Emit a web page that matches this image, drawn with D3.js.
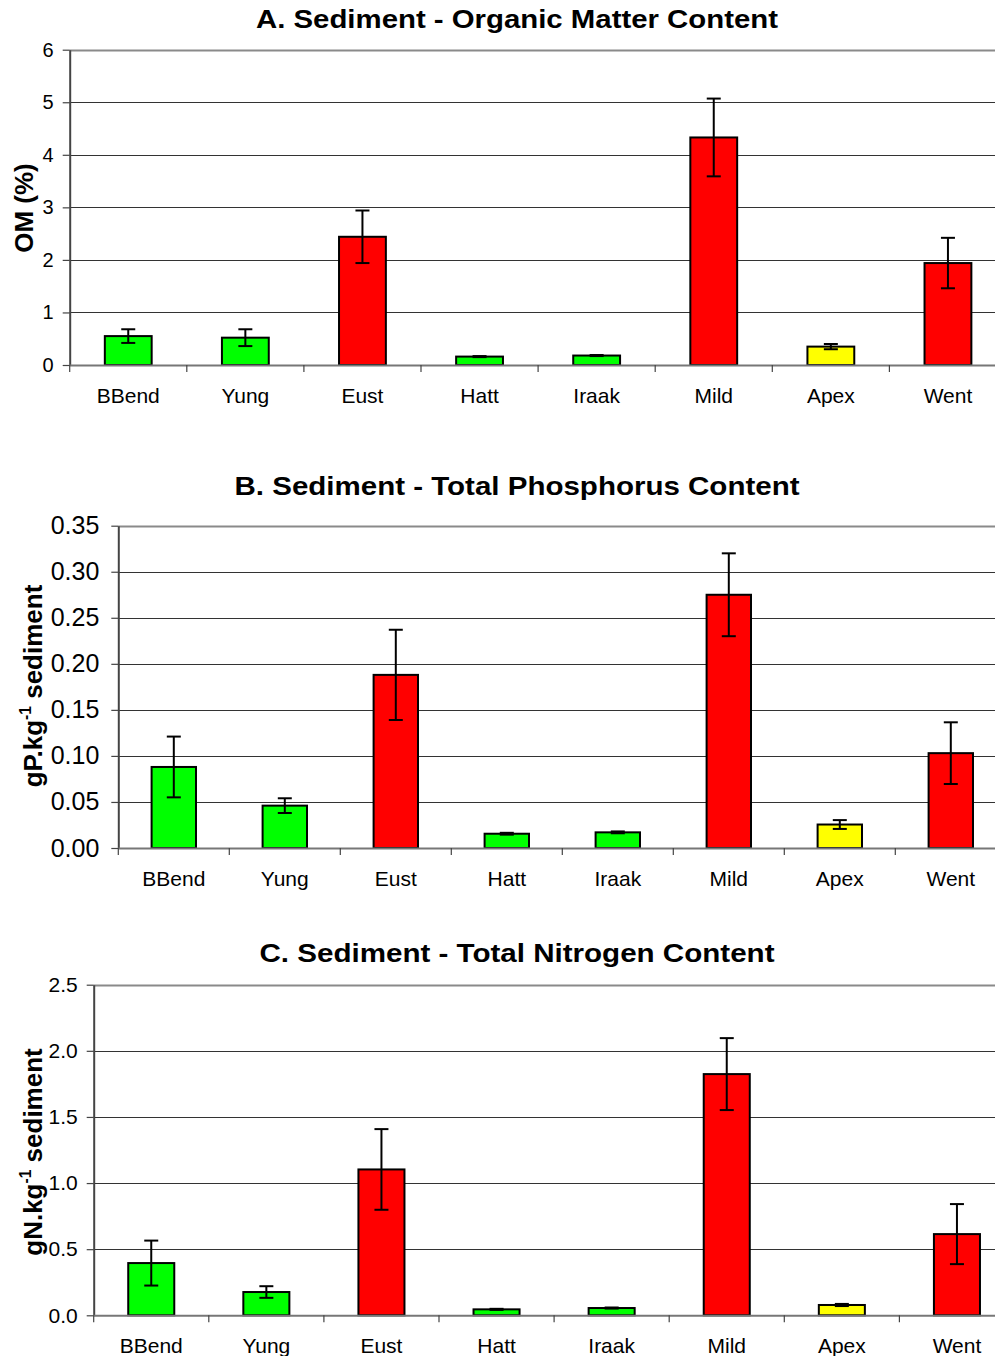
<!DOCTYPE html>
<html>
<head>
<meta charset="utf-8">
<script src="https://cdn.jsdelivr.net/npm/d3@7"></script>
<style>
  html, body { margin: 0; padding: 0; background: #fff; }
  svg { display: block; font-family: "Liberation Sans", Arial, sans-serif; }
</style>
</head>
<body>
<svg id="chart" width="995" height="1356"></svg>
<script>
// ---------- Data ----------
const sites = ["BBend", "Yung", "Eust", "Hatt", "Iraak", "Mild", "Apex", "Went"];
const siteColors = ["#00FF00", "#00FF00", "#FF0000", "#00FF00", "#00FF00", "#FF0000", "#FFFF00", "#FF0000"];

const omValues = [0.55, 0.52, 2.44, 0.16, 0.18, 4.33, 0.35, 1.94];
const omErrors = [0.13, 0.16, 0.50, 0.01, 0.01, 0.74, 0.05, 0.48];
const omTicks = [0, 1, 2, 3, 4, 5, 6];

const tpValues = [0.088, 0.046, 0.188, 0.0155, 0.017, 0.275, 0.0255, 0.103];
const tpErrors = [0.033, 0.008, 0.049, 0.001, 0.001, 0.045, 0.0048, 0.0335];
const tpTicks = [0, 0.05, 0.10, 0.15, 0.20, 0.25, 0.30, 0.35];

const tnValues = [0.395, 0.176, 1.103, 0.045, 0.055, 1.824, 0.078, 0.614];
const tnErrors = [0.17, 0.044, 0.305, 0.004, 0.004, 0.272, 0.008, 0.227];
const tnTicks = [0, 0.5, 1.0, 1.5, 2.0, 2.5];

// ---------- Panels ----------
const svg = d3.select("#chart");

function drawPanel(cfg) {
  const g = svg.append("g");
  const x = d3.scaleBand().domain(sites).range([cfg.left, cfg.right])
    .paddingInner(0.6).paddingOuter(0.3);
  const xEdges = d3.scaleBand().domain(sites).range([cfg.left, cfg.right]).padding(0);
  const y = d3.scaleLinear().domain([0, cfg.max]).range([cfg.bottom, cfg.top]);

  // title
  g.append("text").attr("x", 517).attr("y", cfg.titleY)
    .attr("text-anchor", "middle").attr("font-weight", "bold")
    .attr("font-size", 25).attr("fill", "#000")
    .attr("textLength", cfg.titleLen).attr("lengthAdjust", "spacingAndGlyphs")
    .text(cfg.title);

  // gridlines
  g.selectAll("line.grid").data(cfg.ticks.filter(t => t > 0)).join("line")
    .attr("x1", cfg.left).attr("x2", cfg.right + 20)
    .attr("y1", d => Math.round(y(d)) + 0.5).attr("y2", d => Math.round(y(d)) + 0.5)
    .attr("stroke", d => d === cfg.max ? "#8a8a8a" : "#333")
    .attr("stroke-width", d => d === cfg.max ? 2 : 1);

  // y axis
  const yAxis = d3.axisLeft(y).tickValues(cfg.ticks).tickFormat(cfg.fmt)
    .tickSize(7).tickSizeOuter(0).tickPadding(cfg.tickPad);
  const ya = g.append("g").attr("transform", `translate(${cfg.left},0)`).call(yAxis);
  ya.select(".domain").attr("stroke", "#444").attr("stroke-width", 2);
  ya.selectAll(".tick line").attr("stroke", "#444").attr("stroke-width", 1.2);
  ya.selectAll(".tick text").attr("font-size", cfg.tickFont).attr("fill", "#000")
    .attr("font-family", "'Liberation Sans', Arial, sans-serif");

  // bars
  g.selectAll("rect.bar").data(sites).join("rect")
    .attr("x", d => x(d)).attr("width", x.bandwidth())
    .attr("y", (d, i) => y(cfg.values[i]))
    .attr("height", (d, i) => y(0) - y(cfg.values[i]))
    .attr("fill", (d, i) => siteColors[i])
    .attr("stroke", "#000").attr("stroke-width", 2);

  // error bars
  const cap = 7;
  const eb = g.selectAll("g.err").data(sites).join("g");
  eb.append("line")
    .attr("x1", d => x(d) + x.bandwidth() / 2).attr("x2", d => x(d) + x.bandwidth() / 2)
    .attr("y1", (d, i) => y(cfg.values[i] + cfg.errors[i]))
    .attr("y2", (d, i) => y(cfg.values[i] - cfg.errors[i]))
    .attr("stroke", "#000").attr("stroke-width", 2);
  [1, -1].forEach(s => {
    eb.append("line")
      .attr("x1", d => x(d) + x.bandwidth() / 2 - cap).attr("x2", d => x(d) + x.bandwidth() / 2 + cap)
      .attr("y1", (d, i) => y(cfg.values[i] + s * cfg.errors[i]))
      .attr("y2", (d, i) => y(cfg.values[i] + s * cfg.errors[i]))
      .attr("stroke", "#000").attr("stroke-width", 2);
  });

  // x axis
  g.append("line").attr("x1", cfg.left).attr("x2", cfg.right + 20)
    .attr("y1", y(0) + 0.5).attr("y2", y(0) + 0.5)
    .attr("stroke", "#777").attr("stroke-width", 2);
  g.selectAll("line.xt").data(sites).join("line")
    .attr("x1", d => xEdges(d)).attr("x2", d => xEdges(d))
    .attr("y1", y(0)).attr("y2", y(0) + 7)
    .attr("stroke", "#444").attr("stroke-width", 1.2);
  g.selectAll("text.xl").data(sites).join("text")
    .attr("x", d => x(d) + x.bandwidth() / 2).attr("y", cfg.xLabelY)
    .attr("text-anchor", "middle").attr("font-size", 21).attr("fill", "#000")
    .text(d => d);

  // y title
  const yt = g.append("text")
    .attr("transform", `translate(${cfg.yTitleX},${cfg.yTitleY}) rotate(-90)`)
    .attr("text-anchor", "middle").attr("font-weight", "bold")
    .attr("font-size", cfg.yTitleFont).attr("fill", "#000");
  cfg.yTitle.forEach(p => {
    const t = yt.append("tspan").text(p.t);
    if (p.sup) t.attr("font-size", cfg.yTitleFont * 0.6).attr("dy", -11);
    if (p.after) t.attr("dy", 11);
  });
}

drawPanel({
  title: "A. Sediment - Organic Matter Content", titleY: 28, titleLen: 522,
  left: 69.7, right: 1006.5, top: 49.7, bottom: 365, max: 6,
  ticks: omTicks, fmt: d3.format("d"), tickFont: 20, tickPad: 9,
  values: omValues, errors: omErrors, xLabelY: 403,
  yTitle: [{ t: "OM (%)" }], yTitleX: 33, yTitleY: 208, yTitleFont: 26
});

drawPanel({
  title: "B. Sediment - Total Phosphorus Content", titleY: 495, titleLen: 565,
  left: 118.3, right: 1006.3, top: 525.7, bottom: 848, max: 0.35,
  ticks: tpTicks, fmt: d3.format(".2f"), tickFont: 25, tickPad: 12,
  values: tpValues, errors: tpErrors, xLabelY: 886,
  yTitle: [{ t: "gP.kg" }, { t: "-1", sup: true }, { t: " sediment", after: true }],
  yTitleX: 42, yTitleY: 686, yTitleFont: 26
});

drawPanel({
  title: "C. Sediment - Total Nitrogen Content", titleY: 962, titleLen: 515,
  left: 93.7, right: 1014.5, top: 984.7, bottom: 1315.3, max: 2.5,
  ticks: tnTicks, fmt: d3.format(".1f"), tickFont: 21, tickPad: 9,
  values: tnValues, errors: tnErrors, xLabelY: 1353,
  yTitle: [{ t: "gN.kg" }, { t: "-1", sup: true }, { t: " sediment", after: true }],
  yTitleX: 42, yTitleY: 1152, yTitleFont: 26
});
</script>
</body>
</html>
